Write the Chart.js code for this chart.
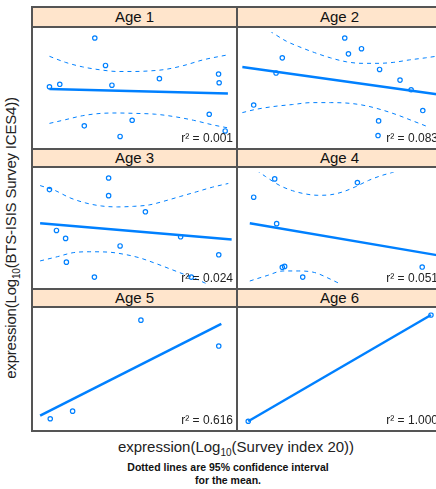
<!DOCTYPE html>
<html>
<head>
<meta charset="utf-8">
<script src="https://cdn.jsdelivr.net/npm/chart.js@4.4.1/dist/chart.umd.min.js"></script>
<style>
  html, body { margin:0; padding:0; background:#fff; overflow:hidden; }
  body { width:436px; height:489px; position:relative; font-family:"Liberation Sans", Arial, sans-serif; }
  .abs { position:absolute; }
  .strip { background:#ffe5cc; box-sizing:border-box; border-bottom:2px solid #555; text-align:center; font-size:15px; color:#111; }
  .frame { box-sizing:border-box; border:2px solid #555; pointer-events:none; z-index:3; }
  .r2 { font-size:12px; color:#222; text-align:right; z-index:2; white-space:nowrap; }
  canvas { position:absolute; }
</style>
</head>
<body>
<script>
// ---- data (panel units: 0-100 on each axis, no tick labels shown in the original) ----
const ages = ["Age 1", "Age 2", "Age 3", "Age 4", "Age 5", "Age 6"];
const r2Values = ["0.001", "0.083", "0.024", "0.051", "0.616", "1.000"];
const xRange = [0, 100];
const yRange = [0, 100];

const age1X = [29.6, 35.1, 6.3, 11.6, 38.4, 62.8, 93.2, 93.5, 88.4, 48.8, 24.2, 42.6, 96.6];
const age1Y = [94.8, 70.2, 51.1, 53.3, 52.5, 58.4, 62.5, 54.7, 26.5, 21.1, 16.1, 6.6, 11.5];
const age1FitX = [6.3, 98];
const age1FitY = [49.0, 45.1];
const age1UpX = [6.3, 14.5, 23.4, 33.2, 41.3, 49.4, 57.6, 65.7, 75.4, 85.2, 98.2];
const age1UpY = [78.4, 73.0, 68.9, 66.1, 64.8, 64.8, 65.3, 66.6, 70.2, 75.2, 79.8];
const age1LoX = [6.3, 14.5, 23.4, 33.2, 41.3, 49.4, 60.8, 70.6, 80.3, 90.1, 98.2];
const age1LoY = [18.3, 21.6, 25.2, 27.3, 27.6, 27.3, 26.5, 24.3, 21.1, 17.0, 14.2];

const age2X = [52.7, 61.3, 54.6, 20.6, 70.6, 17.4, 81.1, 86.8, 5.9, 92.8, 70.1, 69.8];
const age2Y = [94.8, 85.2, 80.6, 77.0, 66.6, 63.4, 57.1, 48.4, 34.7, 29.8, 20.5, 7.4];
const age2FitX = [0, 100];
const age2FitY = [68.9, 44.3];
const age2UpX = [0, 15.3, 22.6, 29.1, 37.2, 45.4, 53.5, 61.6, 69.8, 77.9, 86.0, 94.1, 100];
const age2UpY = [116, 99.8, 92.0, 87.1, 81.7, 77.0, 73.5, 72.1, 72.1, 73.0, 75.2, 77.0, 78.5];
const age2LoX = [0, 6.3, 16.1, 25.9, 35.6, 45.4, 55.1, 63.3, 71.4, 79.5, 87.7, 95.8];
const age2LoY = [27.9, 30.6, 33.4, 35.2, 36.9, 36.9, 36.3, 34.2, 30.6, 26.0, 20.5, 15.0];

const age3X = [36.7, 6.3, 36.7, 55.6, 9.9, 14.6, 73.7, 42.6, 15.0, 93.3, 29.4, 79.2];
const age3Y = [94.8, 84.4, 79.0, 64.5, 47.8, 40.7, 42.1, 33.9, 19.4, 26.0, 6.0, 6.0];
const age3FitX = [1.5, 100];
const age3FitY = [54.3, 39.6];
const age3UpX = [1.5, 8.8, 16.9, 25.0, 33.2, 41.3, 49.4, 57.6, 65.7, 73.8, 82.0, 90.1, 98.2];
const age3UpY = [88.0, 83.9, 77.0, 72.4, 69.7, 68.9, 69.4, 70.7, 74.3, 78.4, 82.5, 86.6, 89.9];
const age3LoX = [1.5, 10.4, 18.5, 26.7, 36.4, 44.5, 52.7, 60.8, 68.9, 77.1, 82.0, 98.2];
const age3LoY = [20.5, 24.3, 27.9, 28.7, 28.4, 26.5, 23.2, 18.3, 12.9, 7.4, 4.1, -10];

const age4X = [16.7, 59.2, 5.9, 17.7, 21.8, 20.6, 31.1, 92.5];
const age4Y = [94.0, 90.7, 77.6, 53.9, 15.6, 14.8, 6.0, 15.0];
const age4FitX = [3.9, 100];
const age4FitY = [54.3, 25.7];
const age4UpX = [3.9, 12.0, 19.4, 25.9, 32.3, 38.9, 45.4, 51.9, 58.4, 64.9, 71.4, 77.9, 86.0];
const age4UpY = [106, 96.1, 88.0, 83.4, 80.6, 79.3, 79.8, 82.5, 87.1, 92.6, 96.9, 100.2, 106];
const age4LoX = [3.9, 12.8, 21.0, 29.1, 37.2, 45.4, 48.6, 60];
const age4LoY = [2.5, 7.4, 11.5, 11.5, 10.1, 4.1, 1.4, -8];

const age5X = [53.3, 93.3, 18.2, 6.7];
const age5Y = [93.0, 70.2, 12.9, 6.2];
const age5FitX = [1.5, 94.6];
const age5FitY = [8.9, 89.8];

const age6X = [3.1, 97.0];
const age6Y = [4.0, 97.5];
const age6FitX = [3.1, 97.0];
const age6FitY = [4.0, 97.5];

// ---- layout ----
const colLeft = [32, 237];
const panelW = 205;
const stripTop = [7, 149, 289];
const plotTop = [27, 167, 307];
const plotBottom = [149, 289, 431];
const blue = "#0080ff";

function pts(xs, ys) { return xs.map((x, i) => ({ x: x, y: ys[i] })); }

const panelData = [
  { pts: [age1X, age1Y], fit: [age1FitX, age1FitY], up: [age1UpX, age1UpY], lo: [age1LoX, age1LoY] },
  { pts: [age2X, age2Y], fit: [age2FitX, age2FitY], up: [age2UpX, age2UpY], lo: [age2LoX, age2LoY] },
  { pts: [age3X, age3Y], fit: [age3FitX, age3FitY], up: [age3UpX, age3UpY], lo: [age3LoX, age3LoY] },
  { pts: [age4X, age4Y], fit: [age4FitX, age4FitY], up: [age4UpX, age4UpY], lo: [age4LoX, age4LoY] },
  { pts: [age5X, age5Y], fit: [age5FitX, age5FitY] },
  { pts: [age6X, age6Y], fit: [age6FitX, age6FitY] }
];

function el(tag, cls, style, html) {
  const e = document.createElement(tag);
  if (cls) e.className = cls;
  Object.assign(e.style, style);
  if (html !== undefined) e.innerHTML = html;
  document.body.appendChild(e);
  return e;
}

panelData.forEach((pd, i) => {
  const col = i % 2, row = Math.floor(i / 2);
  const x0 = colLeft[col];
  const sTop = stripTop[row], pTop = plotTop[row], pBot = plotBottom[row];
  const h = pBot - pTop;

  el("div", "abs strip", { left: x0 + "px", top: sTop + "px", width: panelW + "px", height: (pTop - sTop + 1) + "px", lineHeight: (pTop - sTop) + "px" }, ages[i]);

  const cv = document.createElement("canvas");
  cv.width = panelW; cv.height = h;
  cv.style.left = x0 + "px"; cv.style.top = pTop + "px";
  document.body.appendChild(cv);

  el("div", "abs frame", { left: (x0 - 1) + "px", top: (sTop - 1) + "px", width: (panelW + 2) + "px", height: (pBot - sTop + 2) + "px" });

  el("div", "abs r2", { left: x0 + "px", width: (panelW - 4) + "px", top: (pBot - 19) + "px", lineHeight: "16px" }, "r² = " + r2Values[i]);

  const datasets = [];
  if (pd.up) {
    [pd.up, pd.lo].forEach(b => datasets.push({
      data: pts(b[0], b[1]), showLine: true, borderColor: blue, borderWidth: 1,
      borderDash: [4, 4], pointRadius: 0, cubicInterpolationMode: "monotone", fill: false
    }));
  }
  datasets.push({ data: pts(pd.fit[0], pd.fit[1]), showLine: true, borderColor: blue, borderWidth: 2.5, pointRadius: 0 });
  datasets.push({ data: pts(pd.pts[0], pd.pts[1]), showLine: false, pointRadius: 2.2, pointBorderWidth: 1.2,
    pointBorderColor: blue, pointBackgroundColor: "rgba(0,0,0,0)" });

  new Chart(cv, {
    type: "scatter",
    data: { datasets: datasets },
    options: {
      responsive: false, animation: false, events: [],
      layout: { padding: 0 },
      plugins: { legend: { display: false }, tooltip: { enabled: false } },
      scales: {
        x: { type: "linear", display: false, min: xRange[0], max: xRange[1] },
        y: { type: "linear", display: false, min: yRange[0], max: yRange[1] }
      }
    }
  });
});

// axis titles and note
el("div", "abs", { left: "36px", width: "400px", top: "438px", textAlign: "center", fontSize: "15px", color: "#222", whiteSpace: "nowrap" },
  "expression(Log<sub style='font-size:10px'>10</sub>(Survey index 20))");
el("div", "abs", { left: "28px", width: "400px", top: "461px", textAlign: "center", fontSize: "10.5px", fontWeight: "bold", color: "#111", lineHeight: "13px" },
  "Dotted lines are 95% confidence interval<br>for the mean.");
el("div", "abs", { left: "-188px", width: "400px", top: "228px", textAlign: "center", fontSize: "15px", color: "#222", whiteSpace: "nowrap", transform: "rotate(-90deg)", transformOrigin: "50% 50%", letterSpacing: "-0.2px" },
  "expression(Log<sub style='font-size:10px'>10</sub>(BTS-ISIS Survey ICES4))");
</script>
</body>
</html>
